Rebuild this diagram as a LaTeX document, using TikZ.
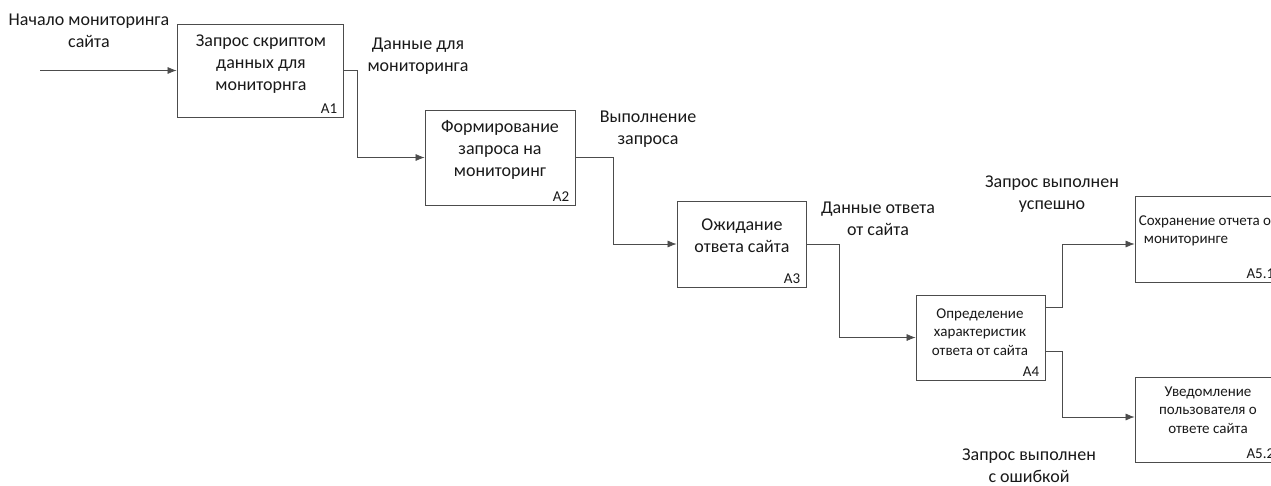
\documentclass[tikz,border=0pt]{standalone}
\usepackage{fontspec}
\setmainfont{Carlito}
\usetikzlibrary{arrows.meta,calc}
\begin{document}
\begin{tikzpicture}[x=1pt,y=-1pt,
 box/.style={draw=black!70,line width=0.8pt,rectangle,inner sep=0pt},
 big/.style={font=\fontsize{18}{22}\selectfont,align=center,inner sep=0pt,text=black!90},
 small/.style={font=\fontsize{15}{18.5}\selectfont,align=center,inner sep=0pt,text=black!90},
 lab/.style={font=\fontsize{15}{16}\selectfont,inner sep=0pt,anchor=south east,text=black!90},
 flow/.style={draw=black!70,line width=0.7pt,-{Latex[length=9pt,width=7pt]}}]
\useasboundingbox (0,0) rectangle (1271,485);
\clip (0,0) rectangle (1271,485);
\fill[white] (0,0) rectangle (1271,485);
% boxes
\node[box,minimum width=166pt,minimum height=93pt] (A1) at (260,70.5) {};
\node[box,minimum width=150pt,minimum height=95pt] (A2) at (500,157.5) {};
\node[box,minimum width=129pt,minimum height=86pt] (A3) at (741.5,244) {};
\node[box,minimum width=129pt,minimum height=85pt] (A4) at (980.5,337.5) {};
\node[box,minimum width=145pt,minimum height=86pt] (A51) at (1207.5,239) {};
\node[box,minimum width=145pt,minimum height=85pt] (A52) at (1207.5,419.5) {};
% box texts
\node[big] (t1) at (261,64) {Запрос скриптом\\данных для\\мониторнга};
\node[big] (t2) at (500,150) {Формирование\\запроса на\\мониторинг};
\node[big] (t3) at (742,236) {Ожидание\\ответа сайта};
\node[small] (t4) at (980,332) {Определение\\характеристик\\ответа от сайта};
\node[small] (t51) at (1205,231) {Сохранение отчета о\\мониторинге\hspace*{38pt}};
\node[small] (t52) at (1208,410) {Уведомление\\пользователя о\\ответе сайта};
% box numbers
\node[lab] (l1) at ([xshift=-6pt,yshift=4pt]A1.south east) {A1};
\node[lab] (l2) at ([xshift=-6pt,yshift=4pt]A2.south east) {A2};
\node[lab] (l3) at ([xshift=-6pt,yshift=4pt]A3.south east) {A3};
\node[lab] (l4) at ([xshift=-6pt,yshift=4pt]A4.south east) {A4};
\node[lab] (l51) at ([xshift=-6pt,yshift=4pt]A51.south east) {A5.1};
\node[lab] (l52) at ([xshift=-6pt,yshift=4pt]A52.south east) {A5.2};
% arrow labels
\node[big] (n0) at (89,31) {Начало мониторинга\\сайта};
\node[big] (n1) at (418,56) {Данные для\\мониторинга};
\node[big] (n2) at (648,129) {Выполнение\\запроса};
\node[big] (n3) at (878,219) {Данные ответа\\от сайта};
\node[big] (n4) at (1052,194) {Запрос выполнен\\успешно};
\node[big] (n5) at (1029,466) {Запрос выполнен\\с ошибкой};
% connectors
\coordinate (s0) at (40,70.5);
\draw[flow] (s0) -- (A1.west);
\draw[flow] (A1.east) -- ++(14,0) |- (A2.west);
\draw[flow] (A2.east) -- ++(38,0) |- (A3.west);
\draw[flow] (A3.east) -- ++(33,0) |- (A4.west);
\draw[flow] ([yshift=30pt]A4.east) -- ++(17,0) |- ([yshift=-5pt]A51.west);
\draw[flow] ([yshift=-14pt]A4.east) -- ++(17,0) |- ([yshift=2.5pt]A52.west);
\end{tikzpicture}
\end{document}
